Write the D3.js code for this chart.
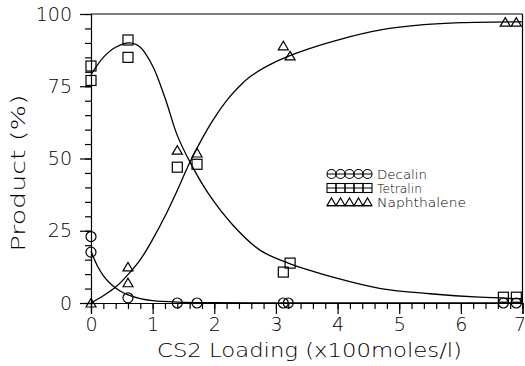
<!DOCTYPE html>
<html><head><meta charset="utf-8">
<script src="https://cdn.jsdelivr.net/npm/d3@7"></script>
<style>
html,body{margin:0;padding:0;background:#fff;}
svg{display:block;}
text{font-family:"DejaVu Sans",sans-serif;font-weight:200;fill:#000;}
</style></head>
<body>
<svg id="chart" width="525" height="366"></svg>
<script>
// ---- Data ----
const xTicks = [0,1,2,3,4,5,6,7];
const yTicks = [0,25,50,75,100];
const seriesNames = ["Decalin","Tetralin","Naphthalene"];

const decalinX = [0, 0, 0.6, 1.4, 1.72, 3.12, 3.2, 6.69, 6.9];
const decalinY = [23, 17.6, 1.8, 0, 0, 0, 0, 0, 0];
const tetralinX = [0, 0, 0.6, 0.6, 1.4, 1.72, 3.12, 3.23, 6.69, 6.9];
const tetralinY = [82, 77, 91, 85, 47, 48, 10.7, 13.8, 2, 2];
const naphX = [0, 0.6, 0.6, 1.4, 1.72, 3.12, 3.23, 6.72, 6.9];
const naphY = [0, 12.5, 7, 52.9, 51.9, 89, 85.5, 97.2, 97.2];

// fitted curves
const decalinFitX = [0, 0.1, 0.2, 0.3, 0.4, 0.5, 0.6, 0.8, 1.0, 1.4, 2.0, 3.0, 5.0, 7.0];
const decalinFitY = [18, 13, 9.5, 7, 5.2, 3.8, 2.8, 1.5, 0.8, 0.3, 0.1, 0, 0, 0];
const tetralinFitX = [0, 0.2, 0.4, 0.63, 0.8, 1.0, 1.2, 1.4, 1.6, 1.9, 2.3, 2.74, 3.2, 4.0, 4.7, 5.5, 6.3, 7.0];
const tetralinFitY = [79, 85, 88.5, 90, 88.5, 82, 71, 58, 49, 38, 27, 18.3, 13.8, 8.5, 5, 3.2, 2, 1.5];
const naphFitX = [0, 0.2, 0.4, 0.6, 0.8, 1.0, 1.2, 1.4, 1.6, 1.8, 2.0, 2.2, 2.4, 2.6, 3.0, 3.4, 4.0, 4.7, 5.4, 6.0, 7.0];
const naphFitY = [0, 2.5, 5.5, 9.8, 15, 22, 30, 39, 48.5, 56.8, 64, 70, 74.8, 78.6, 83.5, 87, 91, 94.5, 96.3, 97, 97.3];

// ---- Layout ----
const svg = d3.select("#chart");
const L = 91, R = 522.5, T = 14, B = 303;
const x = d3.scaleLinear().domain([0,7]).range([L,R]);
const y = d3.scaleLinear().domain([0,100]).range([B,T]);

// frame (top & right)
svg.append("line").attr("x1",L).attr("x2",R).attr("y1",T).attr("y2",T).attr("stroke","#000").attr("stroke-width",1.2);
svg.append("line").attr("x1",R).attr("x2",R).attr("y1",T).attr("y2",B).attr("stroke","#000").attr("stroke-width",1.2);

// axes
const minorX = d3.range(0, 7.0001, 0.2).map(v=>+v.toFixed(2));
const minorY = d3.range(0, 100.001, 5);
svg.append("g").attr("transform",`translate(0,${B})`)
  .call(d3.axisBottom(x).tickValues(minorX).tickSize(6).tickFormat(""))
  .call(g=>g.select(".domain").remove());
svg.append("g").attr("transform",`translate(${L},0)`)
  .call(d3.axisLeft(y).tickValues(minorY).tickSize(6).tickFormat(""))
  .call(g=>g.select(".domain").remove());
const xa = svg.append("g").attr("transform",`translate(0,${B})`)
  .call(d3.axisBottom(x).tickValues(xTicks).tickSize(11).tickPadding(4).tickFormat(d3.format("d")));
const ya = svg.append("g").attr("transform",`translate(${L},0)`)
  .call(d3.axisLeft(y).tickValues(yTicks).tickSize(11).tickPadding(8).tickFormat(d3.format("d")));
[xa,ya].forEach(g=>{
  g.selectAll("text").style("font-family","DejaVu Sans, sans-serif").style("font-weight","200")
    .style("font-size","19px").attr("fill","#000");
  g.selectAll("line,path").attr("stroke","#000").attr("stroke-width",1.2);
});
// keep the last x label inside the window
xa.selectAll(".tick text").filter(d=>d===7).attr("dx",-3);
svg.selectAll(".tick line").attr("stroke","#000").attr("stroke-width",1.2);

// axis titles
svg.append("text").attr("x",(157+462)/2).attr("y",357).attr("text-anchor","middle")
  .attr("textLength",305).attr("lengthAdjust","spacingAndGlyphs")
  .style("font-size","20px").text("CS2 Loading (x100moles/l)");
svg.append("text").attr("transform","translate(25,173) rotate(-90)").attr("text-anchor","middle")
  .attr("textLength",157).attr("lengthAdjust","spacingAndGlyphs")
  .style("font-size","20px").text("Product (%)");

// curves
const line = d3.line().x(d=>x(d[0])).y(d=>y(d[1])).curve(d3.curveCatmullRom.alpha(0.5));
const fits = [[decalinFitX,decalinFitY],[tetralinFitX,tetralinFitY],[naphFitX,naphFitY]];
fits.forEach(([fx,fy])=>{
  svg.append("path").datum(fx.map((v,i)=>[v,fy[i]])).attr("d",line)
    .attr("fill","none").attr("stroke","#000").attr("stroke-width",1.3);
});

// markers
function marker(g, type, cx, cy, s){
  if(type==="circle") g.append("circle").attr("cx",cx).attr("cy",cy).attr("r",s/2);
  else if(type==="square") g.append("rect").attr("x",cx-s/2).attr("y",cy-s/2).attr("width",s).attr("height",s);
  else g.append("path").attr("d",`M${cx-s/2},${cy+s*0.4}L${cx},${cy-s*0.45}L${cx+s/2},${cy+s*0.4}Z`);
}
const sets = [["circle",decalinX,decalinY],["square",tetralinX,tetralinY],["triangle",naphX,naphY]];
const mg = svg.append("g").attr("fill","none").attr("stroke","#000").attr("stroke-width",1.2);
sets.forEach(([t,xs,ys])=>xs.forEach((v,i)=>marker(mg,t,x(v),y(ys[i]),10)));

// legend
const legY = [174,188,202];
const lg = svg.append("g");
sets.forEach(([t],k)=>{
  const cy = legY[k];
  const g = lg.append("g").attr("fill","none").attr("stroke","#000").attr("stroke-width",1.1);
  const ly = t==="triangle" ? cy+3.6 : cy;
  g.append("line").attr("x1",327).attr("x2",372).attr("y1",ly).attr("y2",ly);
  for(let j=0;j<5;j++) marker(g,t,327+4.5+j*9,cy,9);
  lg.append("text").attr("x",377).attr("y",cy+4.5).style("font-size","12px")
    .attr("textLength",[50,45,89][k]).attr("lengthAdjust","spacingAndGlyphs").text(seriesNames[k]);
});
</script>
</body></html>
